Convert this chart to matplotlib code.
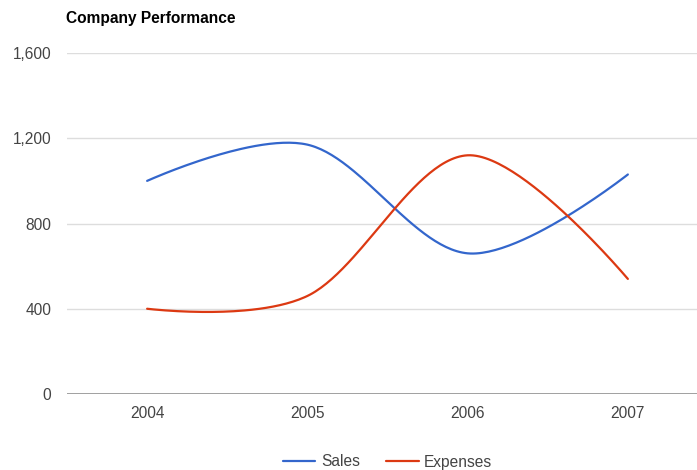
import numpy as np
import matplotlib
matplotlib.use("Agg")
import matplotlib.pyplot as plt

# yearly figures
years = ["2004", "2005", "2006", "2007"]
sales = [1000, 1170, 660, 1030]
expenses = [400, 460, 1120, 540]

SALES_COLOR = "#3366cc"
EXPENSES_COLOR = "#dc3912"
TEXT_COLOR = "#444444"
SMOOTH = 1.0 / 6.0

plt.rcParams["font.family"] = ["Liberation Sans", "DejaVu Sans"]


def smooth_curve(xs, ys, n=60):
    # cubic bezier through each point, control handles along the neighbour chord
    pts = np.column_stack([xs, ys]).astype(float)
    out = []
    for i in range(len(pts) - 1):
        p0, p3 = pts[i], pts[i + 1]
        prev_p = pts[i - 1] if i > 0 else None
        next_p = pts[i + 2] if i + 2 < len(pts) else None
        c1 = p0 if prev_p is None else p0 + SMOOTH * (p3 - prev_p)
        c2 = p3 if next_p is None else p3 - SMOOTH * (next_p - p0)
        t = np.linspace(0, 1, n)[:, None]
        seg = ((1 - t) ** 3) * p0 + 3 * ((1 - t) ** 2) * t * c1 \
            + 3 * (1 - t) * t ** 2 * c2 + t ** 3 * p3
        out.append(seg if i == 0 else seg[1:])
    curve = np.vstack(out)
    return curve[:, 0], curve[:, 1]


fig = plt.figure(figsize=(6.97, 4.70), dpi=100)
ax = fig.add_axes([67 / 697, 76 / 470, 641 / 697, 341 / 470])

x = np.arange(len(years))
for vals, color, name in [(sales, SALES_COLOR, "Sales"), (expenses, EXPENSES_COLOR, "Expenses")]:
    cx, cy = smooth_curve(x, vals)
    ax.plot(cx, cy, color=color, lw=1.6, label=name, solid_capstyle="round", zorder=3)

ax.set_xlim(-0.5, len(years) - 0.5)
ax.set_ylim(0, 1600)
ax.set_xticks(x)
ax.set_xticklabels(years)
ax.set_yticks([0, 400, 800, 1200, 1600])
ax.set_yticklabels(["0", "400", "800", "1,200", "1,600"])
ax.tick_params(axis="both", length=0, labelsize=11.2, labelcolor=TEXT_COLOR)
ax.tick_params(axis="y", pad=11.5)
ax.tick_params(axis="x", pad=9)

for v in [400, 800, 1200, 1600]:
    ax.axhline(v, color="#dddddd", lw=1.0, zorder=1)
ax.axhline(0, color="#999999", lw=1.3, zorder=2)

for side in ["top", "right", "left", "bottom"]:
    ax.spines[side].set_visible(False)

fig.text(66 / 697, 1 - 19 / 470, "Company Performance", fontsize=11.2,
         fontweight="bold", color="#000000", ha="left", va="center")

fig.legend(loc="center", bbox_to_anchor=(0.556, 1 - 462 / 470), ncol=2, frameon=False,
           fontsize=11.2, handlelength=2.1, handletextpad=0.35, columnspacing=1.7,
           labelcolor=TEXT_COLOR)

fig.savefig("out.png", dpi=100)
